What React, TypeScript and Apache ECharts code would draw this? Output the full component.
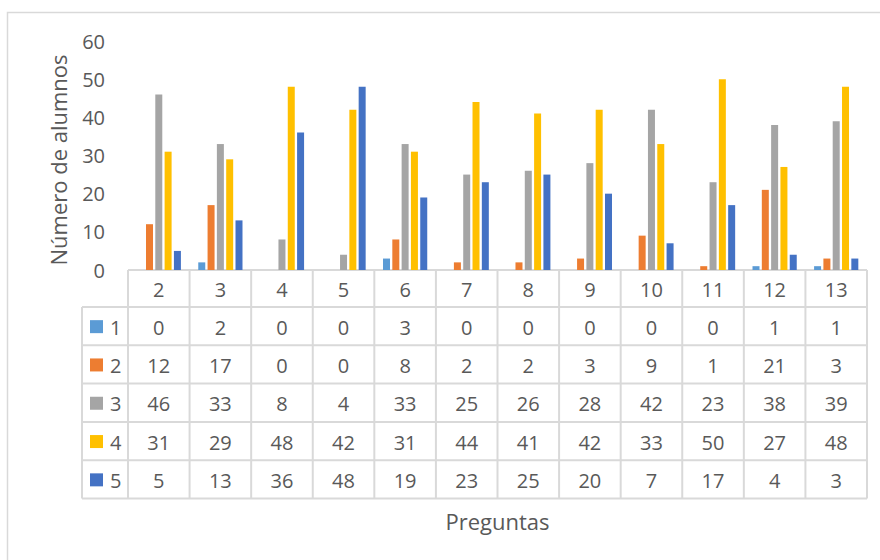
import React, { useEffect, useRef } from "react";
import * as echarts from "echarts";

const categories = ["2", "3", "4", "5", "6", "7", "8", "9", "10", "11", "12", "13"];
const seriesNames = ["1", "2", "3", "4", "5"];
const s1 = [0, 2, 0, 0, 3, 0, 0, 0, 0, 0, 1, 1];
const s2 = [12, 17, 0, 0, 8, 2, 2, 3, 9, 1, 21, 3];
const s3 = [46, 33, 8, 4, 33, 25, 26, 28, 42, 23, 38, 39];
const s4 = [31, 29, 48, 42, 31, 44, 41, 42, 33, 50, 27, 48];
const s5 = [5, 13, 36, 48, 19, 23, 25, 20, 7, 17, 4, 3];
const seriesData = [s1, s2, s3, s4, s5];
const colors = ["#5B9BD5", "#ED7D31", "#A5A5A5", "#FFC000", "#4472C4"];
const yTicks = [0, 10, 20, 30, 40, 50, 60];

const FONT = "'Open Sans', 'Noto Sans', sans-serif";
const TXT = "#595959";
const LINE = "#d9d9d9";

export default function App() {
  const ref = useRef<HTMLDivElement>(null);
  useEffect(() => {
    if (!ref.current) return;
    const chart = echarts.init(ref.current, null, { renderer: "svg" });

    const W = 880;
    const gridLeft = 128;
    const gridRight = 13;
    const tableRight = W - gridRight;
    const colW = (tableRight - gridLeft) / categories.length;
    const tableTop = 270;
    const headerH = 37;
    const rowH = 38.3;
    const legendLeft = 82;
    const tableBottom = tableTop + headerH + rowH * seriesNames.length;

    const g: any[] = [];
    // outer border
    g.push({
      type: "rect",
      shape: { x: 7.5, y: 12.5, width: 900, height: 600 },
      style: { fill: "none", stroke: LINE, lineWidth: 1.5 },
      silent: true,
    });
    // horizontal lines
    g.push({
      type: "line",
      shape: { x1: gridLeft, y1: tableTop, x2: tableRight, y2: tableTop },
      style: { stroke: LINE, lineWidth: 2 },
    });
    for (let r = 0; r <= seriesNames.length; r++) {
      const y = tableTop + headerH + r * rowH;
      g.push({
        type: "line",
        shape: { x1: legendLeft, y1: y, x2: tableRight, y2: y },
        style: { stroke: LINE, lineWidth: 2 },
      });
    }
    // vertical lines
    g.push({
      type: "line",
      shape: { x1: legendLeft, y1: tableTop + headerH, x2: legendLeft, y2: tableBottom },
      style: { stroke: LINE, lineWidth: 2 },
    });
    for (let c = 0; c <= categories.length; c++) {
      const x = gridLeft + c * colW;
      g.push({
        type: "line",
        shape: { x1: x, y1: tableTop, x2: x, y2: tableBottom },
        style: { stroke: LINE, lineWidth: 2 },
      });
    }
    // header texts
    categories.forEach((c, i) => {
      g.push({
        type: "text",
        x: gridLeft + (i + 0.5) * colW,
        y: tableTop + headerH / 2 + 1,
        style: { text: c, fill: TXT, font: `20px ${FONT}`, align: "center", verticalAlign: "middle" },
      });
    });
    // rows
    seriesNames.forEach((name, r) => {
      const cy = tableTop + headerH + (r + 0.5) * rowH + 1;
      g.push({
        type: "rect",
        shape: { x: 90, y: cy - 7, width: 13, height: 13 },
        style: { fill: colors[r] },
      });
      g.push({
        type: "text",
        x: 110,
        y: cy,
        style: { text: name, fill: TXT, font: `20px ${FONT}`, align: "left", verticalAlign: "middle" },
      });
      seriesData[r].forEach((v, i) => {
        g.push({
          type: "text",
          x: gridLeft + (i + 0.5) * colW,
          y: cy,
          style: { text: String(v), fill: TXT, font: `20px ${FONT}`, align: "center", verticalAlign: "middle" },
        });
      });
    });
    // x axis title
    g.push({
      type: "text",
      x: gridLeft + (tableRight - gridLeft) / 2,
      y: 521,
      style: { text: "Preguntas", fill: TXT, font: `22px ${FONT}`, align: "center", verticalAlign: "middle" },
    });
    // y axis title
    g.push({
      type: "text",
      x: 58,
      y: 160,
      rotation: Math.PI / 2,
      style: { text: "Número de alumnos", fill: TXT, font: `22px ${FONT}`, align: "center", verticalAlign: "middle" },
    });

    chart.setOption({
      animation: false,
      backgroundColor: "#ffffff",
      grid: { left: gridLeft, right: gridRight, top: 41, bottom: 560 - tableTop },
      xAxis: {
        type: "category",
        data: categories,
        axisLine: { show: false },
        axisTick: { show: false },
        axisLabel: { show: false },
      },
      yAxis: {
        type: "value",
        min: yTicks[0],
        max: yTicks[yTicks.length - 1],
        interval: 10,
        axisLine: { show: false },
        axisTick: { show: false },
        splitLine: { show: false },
        axisLabel: { color: TXT, fontSize: 20, fontFamily: FONT, margin: 23 },
      },
      series: seriesNames.map((n, i) => ({
        name: n,
        type: "bar",
        data: seriesData[i],
        barWidth: 7,
        barGap: "33%",
        itemStyle: { color: colors[i] },
      })),
      graphic: g,
    });
    return () => chart.dispose();
  }, []);
  return <div ref={ref} style={{ position: "absolute", left: 0, top: 0, width: 880, height: 560 }} />;
}
